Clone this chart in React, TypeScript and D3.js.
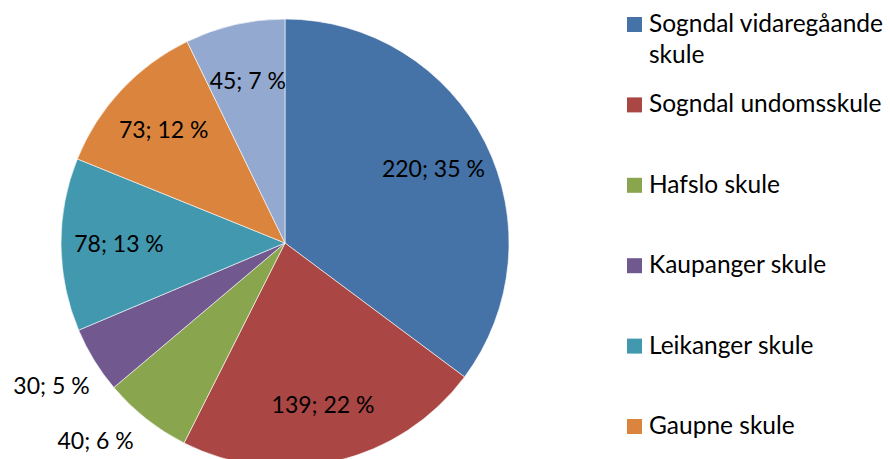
import React, { useEffect, useRef } from 'react';
import * as d3 from 'd3';

// data
const schools = [
  'Sogndal vidaregåande skule',
  'Sogndal undomsskule',
  'Hafslo skule',
  'Kaupanger skule',
  'Leikanger skule',
  'Gaupne skule',
  'Andre skular',
];
const pupils = [220, 139, 40, 30, 78, 73, 45];
const shares = [35, 22, 6, 5, 13, 12, 7];
const colors = ['#4572A7', '#AA4643', '#89A54E', '#71588F', '#4198AF', '#DB843D', '#93A9CF'];

const FONT = 'Lato, "Open Sans", sans-serif';
const W = 890, H = 459;

function App() {
  const svgRef = useRef<SVGSVGElement>(null);

  useEffect(() => {
    document.body.style.margin = '0';
    const svg = d3.select(svgRef.current);
    svg.selectAll('*').remove();

    const cx = 285, cy = 243, R = 224;
    const rows = schools.map((name, i) => ({ name, value: pupils[i], pct: shares[i], color: colors[i] }));

    const pie = d3.pie<any>().value((d) => d.value).sort(null);
    const arcs = pie(rows);
    const arc = d3.arc<any>().innerRadius(0).outerRadius(R);
    const inner = d3.arc<any>().innerRadius(166).outerRadius(166);
    const outR = 274;
    const outer = d3.arc<any>().innerRadius(outR).outerRadius(outR);

    const g = svg.append('g').attr('transform', `translate(${cx},${cy})`);
    g.selectAll('path')
      .data(arcs)
      .join('path')
      .attr('d', arc)
      .attr('fill', (d) => d.data.color)
      .attr('stroke', '#ffffff')
      .attr('stroke-width', 0.6);

    g.selectAll('text')
      .data(arcs)
      .join('text')
      .attr('transform', (d) => {
        const small = d.data.pct <= 6;
        let [x, y] = (small ? outer : inner).centroid(d);
        if (small) {
          // keep the outside label on the page, slide it along the label circle
          const maxY = H - 18 - cy;
          if (y > maxY) {
            y = maxY;
            x = Math.sign(x) * Math.sqrt(outR * outR - y * y);
          }
        }
        return `translate(${x},${y})`;
      })
      .attr('text-anchor', 'middle')
      .attr('dy', '0.35em')
      .style('font-family', FONT)
      .style('font-size', '23px')
      .attr('fill', '#000')
      .text((d) => `${d.data.value}; ${d.data.pct} %`);

    // legend (the last entry falls below the picture, as in the original)
    const legendY = d3.scaleLinear().domain([0, 1]).range([17, 97.4]);
    const leg = svg.append('g');
    rows.forEach((r, i) => {
      const y = legendY(i);
      if (y + 15 > H) return;
      leg.append('rect').attr('x', 627).attr('y', y).attr('width', 15).attr('height', 15).attr('fill', r.color);
      const words = r.name.split(' ');
      const lines = r.name.length > 22 ? [words.slice(0, -1).join(' '), words[words.length - 1]] : [r.name];
      const t = leg.append('text')
        .attr('x', 649)
        .attr('y', y + 15)
        .style('font-family', FONT)
        .style('font-size', '24.5px')
        .attr('fill', '#000');
      lines.forEach((l, k) => {
        t.append('tspan').attr('x', 649).attr('dy', k === 0 ? 0 : 31).text(l);
      });
    });
  }, []);

  return (
    <svg ref={svgRef} width={W} height={H} style={{ display: 'block', background: '#fff' }} />
  );
}

export default App;
